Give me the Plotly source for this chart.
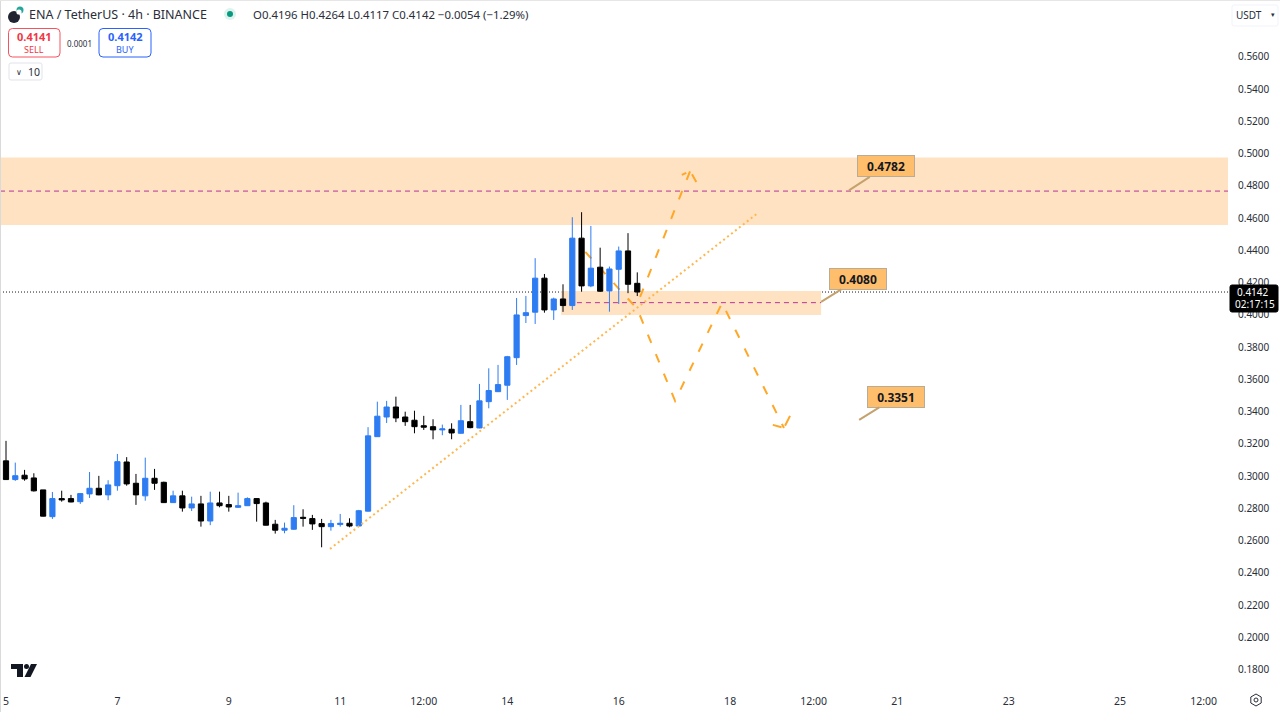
import plotly.graph_objects as go

# ---- chart values (prices) ----
opens = [.3095,.2979,.3006,.2989,.2915,.2749,.2861,.2861,.2842,.2890,.2925,.2884,.2941,.3088,.2956,.2878,.2987,.2962,.2836,.2878,.2803,.2828,.2722,.2834,.2824,.2807,.2817,.2861,.2834,.2702,.2665,.2671,.2745,.2737,.2706,.2687,.2700,.2708,.2691,.2783,.3245,.3367,.3429,.3367,.3347,.3313,.3307,.3287,.3291,.3266,.3338,.3299,.3462,.3524,.3564,.3735,.3996,.4017,.4228,.4031,.4099,.4058,.4476,.4180,.4296,.4149,.4283,.4397,.4196]
highs = [.3219,.3084,.3039,.3018,.2915,.2902,.2910,.2884,.2895,.3026,.3002,.2975,.3138,.3118,.3014,.3115,.3045,.2966,.2910,.2910,.2873,.2878,.2904,.2904,.2878,.2898,.2869,.2863,.2842,.2729,.2712,.2820,.2795,.2760,.2735,.2729,.2766,.2739,.2791,.3304,.3462,.3467,.3493,.3400,.3406,.3374,.3353,.3320,.3328,.3442,.3442,.3572,.3669,.3690,.3746,.4105,.4118,.4352,.4254,.4107,.4190,.4606,.4637,.4552,.4417,.4300,.4424,.4507,.4264]
lows = [.2977,.2971,.2972,.2905,.2750,.2735,.2842,.2838,.2828,.2865,.2882,.2851,.2910,.2941,.2822,.2848,.2915,.2834,.2834,.2780,.2784,.2687,.2696,.2807,.2780,.2803,.2815,.2718,.2694,.2644,.2646,.2667,.2687,.2667,.2559,.2662,.2687,.2683,.2689,.2781,.3243,.3330,.3335,.3312,.3266,.3287,.3229,.3254,.3229,.3264,.3297,.3297,.3421,.3522,.3473,.3690,.3950,.3944,.4014,.3969,.4019,.4031,.4144,.4172,.4143,.4020,.4068,.4135,.4117]
closes = [.2979,.3003,.2983,.2909,.2752,.2861,.2853,.2840,.2892,.2925,.2884,.2946,.3090,.2952,.2884,.2987,.2956,.2836,.2878,.2803,.2828,.2722,.2834,.2817,.2809,.2817,.2861,.2830,.2696,.2665,.2677,.2743,.2739,.2704,.2687,.2706,.2708,.2691,.2786,.3250,.3372,.3429,.3361,.3338,.3307,.3304,.3287,.3293,.3268,.3344,.3301,.3467,.3531,.3568,.3741,.4000,.4014,.4228,.4031,.4099,.4058,.4476,.4180,.4290,.4147,.4285,.4397,.4190,.4142]

x_tick_bars = [0, 12, 24, 36, 45, 54, 66, 78, 87, 96, 108, 120, 129]
x_tick_labels = ["5", "7", "9", "11", "12:00", "14", "16", "18", "12:00", "21", "23", "25", "12:00"]
y_ticks = [.18,.20,.22,.24,.26,.28,.30,.32,.34,.36,.38,.40,.42,.44,.46,.48,.50,.52,.54,.56]

last_price = 0.4142
upper_zone = (0.4558, 0.4977)
lower_zone_bars = (59.8, 87.8)
lower_zone = (0.4000, 0.4149)
upper_level = 0.4768
lower_level = 0.4076
level_start_bar = 61.5

trend_bars = [34.9, 80.9]
trend_prices = [.2549, .4628]
down_bars = [62.4, 68.0, 72.07, 77.13, 83.8]
down_prices = [.4391, .4037, .3467, .4074, .3299]
down_head_bars = [82.6, 83.8, 84.45]
down_head_prices = [.3318, .3299, .3374]
up_bars = [68.3, 73.7]
up_prices = [.4112, .4893]
up_head_bars = [72.8, 73.7, 74.4]
up_head_prices = [.4868, .4893, .4819]

callout_texts = ["0.4782", "0.4080", "0.3351"]
callout_bars = [90.8, 87.8, 91.9]
callout_prices = [.4772, .4081, .3349]

# ---- layout frame ----
W, H = 1280, 712
PW, PH = 1228, 690
FONT = "Noto Sans"
BLUE = "#2E7CF2"
INK = "#2A2E39"

def px(x): return x / PW
def py(y): return 1 - y / PH

def rounded(x0, y0, x1, y1, r):
    X0, X1, Y0, Y1 = px(x0), px(x1), py(y0), py(y1)
    a, b = px(x0 + r), px(x1 - r)
    c, d = py(y0 + r), py(y1 - r)
    return (f"M {a} {Y0} L {b} {Y0} Q {X1} {Y0} {X1} {c} L {X1} {d} Q {X1} {Y1} {b} {Y1} "
            f"L {a} {Y1} Q {X0} {Y1} {X0} {d} L {X0} {c} Q {X0} {Y0} {a} {Y0} Z")

def box(x0, y0, x1, y1, r=3, line="#E0E3EB", fill="rgba(255,255,255,0)", w=1):
    return dict(type="path", xref="paper", yref="paper", path=rounded(x0, y0, x1, y1, r),
                line=dict(color=line, width=w), fillcolor=fill, layer="above")

def disc(cx, cy, r, fill, line=None):
    return dict(type="circle", xref="paper", yref="paper",
                x0=px(cx - r), x1=px(cx + r), y0=py(cy + r), y1=py(cy - r),
                fillcolor=fill, line=dict(color=line or fill, width=1 if line else 0), layer="above")

def poly(points, fill):
    path = "M " + " L ".join(f"{px(a)} {py(b)}" for a, b in points) + " Z"
    return dict(type="path", xref="paper", yref="paper", path=path, fillcolor=fill,
                line=dict(width=0), layer="above")

def label(x, y, text, size=11, color=INK, anchor="left", bold=False):
    return dict(xref="paper", yref="paper", x=px(x), y=py(y), text=f"<b>{text}</b>" if bold else text,
                showarrow=False, xanchor=anchor, yanchor="middle",
                font=dict(family=FONT, size=size, color=color))

def path_from(bars, prices):
    return "M " + " L ".join(f"{a} {b}" for a, b in zip(bars, prices))

bars = list(range(len(opens)))
fig = go.Figure()

fig.add_trace(go.Candlestick(
    x=bars, open=opens, high=highs, low=lows, close=closes,
    increasing=dict(line=dict(color=BLUE, width=1), fillcolor=BLUE),
    decreasing=dict(line=dict(color="#000000", width=1), fillcolor="#000000"),
    whiskerwidth=0, hoverinfo="skip", showlegend=False))

fig.add_trace(go.Scatter(x=trend_bars, y=trend_prices, mode="lines", hoverinfo="skip", showlegend=False,
                         line=dict(color="#FFB74D", width=2, dash="2px,3px")))

ORANGE = "#FFA726"
shapes = [
    dict(type="rect", xref="paper", yref="y", x0=0, x1=1, y0=upper_zone[0], y1=upper_zone[1],
         fillcolor="#FFE2C2", line=dict(width=0), layer="below"),
    dict(type="rect", xref="x", yref="y", x0=lower_zone_bars[0], x1=lower_zone_bars[1],
         y0=lower_zone[0], y1=lower_zone[1], fillcolor="#FFE2C2", line=dict(width=0), layer="below"),
    dict(type="line", xref="paper", yref="y", x0=0, x1=1, y0=upper_level, y1=upper_level,
         line=dict(color="#B5349C", width=1, dash="5px,4px"), layer="below"),
    dict(type="line", xref="x", yref="y", x0=level_start_bar, x1=lower_zone_bars[1], y0=lower_level, y1=lower_level,
         line=dict(color="#B5349C", width=1, dash="5px,4px"), layer="below"),
    dict(type="line", xref="paper", yref="y", x0=0, x1=1, y0=last_price, y1=last_price,
         line=dict(color="#131722", width=1, dash="1px,2px"), layer="below"),
    dict(type="path", xref="x", yref="y", path=path_from(down_bars, down_prices),
         line=dict(color=ORANGE, width=2, dash="9px,12px"), layer="below"),
    dict(type="path", xref="x", yref="y", path=path_from(down_head_bars, down_head_prices),
         line=dict(color=ORANGE, width=2, dash="9px,5px,12px,30px"), layer="below"),
    dict(type="path", xref="x", yref="y", path=path_from(up_bars, up_prices),
         line=dict(color=ORANGE, width=2, dash="9px,12px"), layer="below"),
    dict(type="path", xref="x", yref="y", path=path_from(up_head_bars, up_head_prices),
         line=dict(color=ORANGE, width=2, dash="5px,8px,9px,30px"), layer="below"),
    # frame hairlines
    dict(type="line", xref="paper", yref="paper", x0=px(0.5), x1=px(0.5), y0=py(0), y1=py(712),
         line=dict(color="#DADADA", width=1)),
    dict(type="line", xref="paper", yref="paper", x0=0, x1=px(1280), y0=py(0.5), y1=py(0.5),
         line=dict(color="#E6E6E6", width=1)),
    # header logo
    disc(14, 17, 6, "#1F2430"),
    disc(20, 10, 3.5, "#26A69A"),
    disc(19, 12, 2.6, "#FFFFFF"),
    disc(230, 14, 6, "#DFF3EE"),
    disc(230, 14, 3, "#089981"),
    # order buttons
    box(8.5, 28.5, 60, 57, 4, "#F7525F", "#FFFFFF"),
    box(99, 28.5, 151, 57, 4, "#2962FF", "#FFFFFF"),
    box(9, 63, 42, 80, 2, "#E0E3EB", "#FFFFFF"),
    box(1232, 5, 1278, 26, 2, "#F0F3FA", "#FFFFFF"),
    # last price tag
    box(1230, 285, 1278, 312, 2, "#000000", "#000000"),
    # TradingView mark
    poly([(11, 664), (23, 664), (23, 677), (17, 677), (17, 669), (11, 669)], "#131722"),
    disc(26.5, 666.5, 2.5, "#131722"),
    poly([(31, 664), (37, 664), (30.5, 677), (24.5, 677)], "#131722"),
    # settings gear
    dict(type="path", xref="paper", yref="paper", layer="above", line=dict(color="#2A2E39", width=1),
         path="M " + " L ".join(f"{px(a)} {py(b)}" for a, b in
              [(1256, 694), (1261.2, 697), (1261.2, 703), (1256, 706), (1250.8, 703), (1250.8, 697)]) + " Z"),
    disc(1256, 700, 2, "#FFFFFF", "#2A2E39"),
]

annotations = [
    label(26.5, 15, "ENA / TetherUS · 4h · BINANCE", 12.5),
    label(251, 15, "O0.4196 H0.4264 L0.4117 C0.4142 −0.0054 (−1.29%)", 11.4),
    label(34, 37, "0.4141", 11, "#F23645", "center", True),
    label(34, 50, "SELL", 9, "#F23645", "center"),
    label(79, 43, "0.0001", 8, INK, "center"),
    label(125, 37, "0.4142", 11, "#2962FF", "center", True),
    label(125, 50, "BUY", 9, "#2962FF", "center"),
    label(14, 71.5, "∨", 8, INK),
    label(26, 71.5, "10", 10.5, INK),
    label(1234, 15, "USDT", 10, INK),
    label(1269, 15, "▾", 7, INK),
    label(1253, 292, "0.4142", 10, "#FFFFFF", "center"),
    label(1255, 304, "02:17:15", 10, "#FFFFFF", "center"),
]
offsets = [(37, -24), (37, -23), (37, -23)]
for text, b, p, (ax, ay) in zip(callout_texts, callout_bars, callout_prices, offsets):
    annotations.append(dict(
        x=b, y=p, xref="x", yref="y", text=f"<b>{text}</b>", showarrow=True, ax=ax, ay=ay,
        axref="pixel", ayref="pixel", arrowhead=0, arrowwidth=2, arrowcolor="#C4A26E", standoff=0,
        bgcolor="#FFBE6B", bordercolor="#B8AC96", borderwidth=1, borderpad=2, width=52, height=16,
        align="center", font=dict(family=FONT, size=12, color="#131722")))

fig.update_layout(
    width=W, height=H, margin=dict(l=0, r=W - PW, t=0, b=H - PH),
    paper_bgcolor="#FFFFFF", plot_bgcolor="#FFFFFF", boxgap=0.2,
    font=dict(family=FONT, size=10.5, color=INK),
    shapes=shapes, annotations=annotations, showlegend=False, dragmode=False,
    xaxis=dict(range=[-0.646, 131.63], showgrid=False, zeroline=False, showline=False,
               rangeslider=dict(visible=False), tickmode="array", tickvals=x_tick_bars,
               ticktext=x_tick_labels, ticks="outside", ticklen=1, tickcolor="rgba(0,0,0,0)",
               tickfont=dict(family=FONT, size=10.5, color=INK)),
    yaxis=dict(range=[0.1674, 0.5953], side="right", showgrid=False, zeroline=False, showline=False,
               tickmode="array", tickvals=y_ticks, tickformat=".4f", ticks="outside", ticklen=7,
               tickcolor="rgba(0,0,0,0)", tickfont=dict(family=FONT, size=10, color=INK)),
)

fig.write_html("out.html", config=dict(displayModeBar=False),
               post_script="document.body.style.margin='0';document.body.style.overflow='hidden';")
